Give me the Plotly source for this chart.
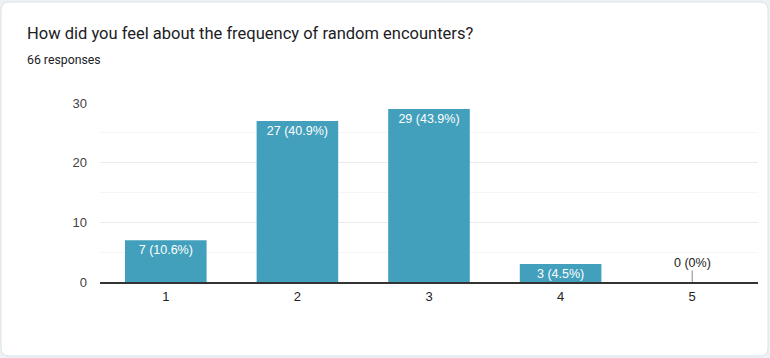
import plotly.graph_objects as go

categories = ["1", "2", "3", "4", "5"]
counts = [7, 27, 29, 3, 0]
total_responses = 66
y_ticks = [0, 10, 20, 30]
title_text = "How did you feel about the frequency of random encounters?"
subtitle_text = "66 responses"

W, H = 770, 358
ML, MR, MT, MB = 100, 12, 103, 76
PW, PH = W - ML - MR, H - MT - MB

def px_x(p):
    return (p - ML) / PW

def px_y(p):
    return (H - MB - p) / PH

labels = []
for c in counts:
    pct = c / total_responses * 100
    labels.append(f"{c} ({pct:.1f}%)" if c > 0 else "")

bar_color = "#42a0bc"

fig = go.Figure()
fig.add_trace(go.Bar(
    x=categories, y=counts, text=labels,
    marker=dict(color=bar_color, line=dict(width=0)),
    textposition="inside", insidetextanchor="end", textangle=0,
    constraintext="none",
    textfont=dict(color="white", size=12.5, family="Arial, Liberation Sans"),
    hoverinfo="skip",
))

# zero-value stub and label
for i, (cat, c) in enumerate(zip(categories, counts)):
    if c == 0:
        fig.add_annotation(
            x=i, y=c, xref="x", yref="y", text=f"{c} (0%)",
            showarrow=True, arrowhead=0, arrowwidth=1, arrowcolor="#8a8a8a",
            ax=0, ay=-19, standoff=0, borderpad=0,
            font=dict(color="#222222", size=12.5, family="Arial, Liberation Sans"),
        )

# card outline
x0, x1 = px_x(1), px_x(768)
y0, y1 = px_y(356), px_y(2)
r = 8
rx, ry = r / PW, r / PH
path = (f"M {x0+rx},{y1} L {x1-rx},{y1} Q {x1},{y1} {x1},{y1-ry} "
        f"L {x1},{y0+ry} Q {x1},{y0} {x1-rx},{y0} L {x0+rx},{y0} "
        f"Q {x0},{y0} {x0},{y0+ry} L {x0},{y1-ry} Q {x0},{y1} {x0+rx},{y1} Z")
fig.add_shape(type="path", path=path, xref="paper", yref="paper",
              fillcolor="white", line=dict(color="#dae3ea", width=1), layer="below")

fig.add_annotation(
    text=title_text, xref="paper", yref="paper", x=px_x(25), y=px_y(33),
    xanchor="left", yanchor="middle", showarrow=False,
    font=dict(size=16.5, color="#202124", family="Roboto, Arial"),
)
fig.add_annotation(
    text=subtitle_text, xref="paper", yref="paper", x=px_x(25), y=px_y(60),
    xanchor="left", yanchor="middle", showarrow=False,
    font=dict(size=12.3, color="#202124", family="Roboto, Arial"),
)

fig.update_layout(
    width=W, height=H,
    margin=dict(l=ML, r=MR, t=MT, b=MB),
    paper_bgcolor="#edf2f6", plot_bgcolor="white",
    showlegend=False, bargap=0.38,
    font=dict(family="Arial, Liberation Sans", size=13, color="#444444"),
    xaxis=dict(
        type="category", showline=True, linecolor="#333333", linewidth=1.5,
        showgrid=False, ticks="", tickfont=dict(size=13, color="#222222"),
        ticklabelstandoff=2, zeroline=False, fixedrange=True,
    ),
    yaxis=dict(
        range=[0, 30], tickvals=y_ticks, showgrid=True, gridcolor="#ebebeb",
        gridwidth=1, zeroline=False, showline=False, ticks="",
        ticklabelstandoff=12, tickfont=dict(size=13, color="#444444"),
        minor=dict(dtick=5, showgrid=True, gridcolor="#f6f6f6", gridwidth=1),
        fixedrange=True,
    ),
)

fig.write_html(
    "out.html",
    config={"displayModeBar": False},
    post_script="document.body.style.margin='0';document.body.style.overflow='hidden';",
)
